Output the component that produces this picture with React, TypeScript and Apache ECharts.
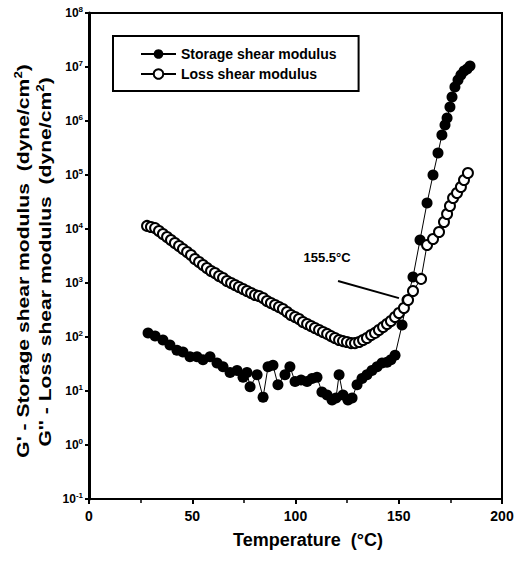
import React, { useEffect, useRef } from "react";
import * as echarts from "echarts";

const FONT = "'Liberation Sans', Arial, sans-serif";

// Storage shear modulus G' (dyne/cm^2) vs temperature (°C)
const storageTemp = [
  28.6, 32.0, 35.8, 39.2, 42.6, 45.5, 48.9, 52.3, 55.2, 58.6, 62.0, 64.9, 68.3, 71.7, 74.6, 76.5, 78.0,
  81.4, 84.3, 86.7, 89.1, 91.5, 94.9, 97.3, 99.8, 102.7, 105.6, 108.0, 110.4, 112.8, 115.3, 117.7, 119.6,
  121.1, 123.0, 125.4, 127.4, 129.8, 132.2, 134.6, 137.0, 139.5, 141.9, 144.3, 146.2, 148.2, 151.6, 154.0,
  156.9, 160.3, 163.7, 166.6, 169.0, 170.9, 172.4, 173.4, 174.8, 175.8, 177.2, 178.7, 180.1, 181.6, 183.1, 184.5,
];
const storageValue = [
  119, 104, 88, 71, 57, 53, 43, 43, 38, 43, 33, 28, 22, 24, 18, 22, 12,
  20, 7.7, 28, 30, 13, 20, 28, 15, 16, 15, 17, 18, 9.6, 8.4, 6.8, 7.4,
  20, 8.4, 6.8, 7.4, 13, 17, 20, 24, 28, 33, 34, 38, 46, 167, 484,
  1290, 6250, 30300, 100000, 255000, 551000, 843000, 1140000, 1820000, 2780000, 4260000, 5740000, 7110000, 8430000, 9180000, 10400000,
];

// Loss shear modulus G'' (dyne/cm^2) vs temperature (°C)
const lossTemp = [
  28.1, 30.0, 32.0, 33.9, 35.8, 37.8, 39.7, 41.6, 43.6, 45.5, 47.5, 49.4, 51.3, 53.3, 55.2, 57.1, 59.1,
  61.0, 63.0, 64.9, 66.8, 68.8, 70.7, 72.6, 74.6, 76.5, 78.5, 80.4, 82.3, 84.3, 86.2, 88.1, 90.1, 92.0,
  93.9, 95.9, 97.8, 99.8, 101.7, 103.6, 105.6, 107.5, 109.4, 111.4, 113.3, 115.3, 117.2, 119.1, 121.1,
  123.0, 124.9, 126.9, 128.8, 130.8, 132.7, 134.6, 136.6, 138.5, 140.4, 142.4, 144.3, 146.2, 148.2, 150.1,
  152.5, 154.5, 156.9, 160.8, 163.7, 166.6, 169.5, 171.9, 173.4, 174.8, 176.3, 178.2, 180.1, 181.6, 183.5,
];
const lossValue = [
  11400, 10900, 10400, 9180, 8080, 7110, 6250, 5510, 4840, 4260, 3750, 3300, 2780, 2450, 2150, 1900, 1670,
  1530, 1350, 1240, 1090, 1000, 918, 843, 774, 711, 653, 600, 575, 528, 464, 426, 391, 359,
  330, 290, 255, 235, 215, 190, 174, 160, 147, 135, 124, 114, 104, 96, 88,
  84, 81, 77, 77, 81, 88, 96, 109, 119, 135, 153, 174, 198, 235, 278,
  344, 484, 711, 1190, 5060, 6530, 8800, 13500, 19000, 26700, 37500, 46400, 60000, 80800, 109000,
];

const xTicks = [0, 50, 100, 150, 200];
const yDecades = [-1, 0, 1, 2, 3, 4, 5, 6, 7, 8];

// Annotation: crossover temperature
const crossLabel = "155.5°C";
const crossLabelAt = [115.3, 3020];
const arrowFrom = [120.6, 1090];
const arrowTo = [150.1, 525];

export default function App() {
  const ref = useRef<HTMLDivElement>(null);
  useEffect(() => {
    const chart = echarts.init(ref.current!, null, { renderer: "svg" });
    const pairs = (xs: number[], ys: number[]) => xs.map((x, i) => [x, ys[i]]);
    const titleRich = {
      a: { fontFamily: FONT, fontSize: 16, fontWeight: "bold", color: "#000", lineHeight: 20 },
      s: { fontFamily: FONT, fontSize: 10, fontWeight: "bold", color: "#000", lineHeight: 10, verticalAlign: "top" },
    };
    chart.setOption({
      animation: false,
      backgroundColor: "#fff",
      grid: {
        left: 89, right: 16, top: 13, bottom: 69,
        show: true, borderColor: "#000", borderWidth: 2, backgroundColor: "transparent",
      },
      xAxis: {
        type: "value",
        min: xTicks[0],
        max: xTicks[xTicks.length - 1],
        interval: 50,
        axisLine: { lineStyle: { color: "#000", width: 2 } },
        axisTick: { show: true, length: 5, lineStyle: { color: "#000", width: 2 } },
        minorTick: { show: true, splitNumber: 2, length: 4, lineStyle: { color: "#000", width: 1.5 } },
        splitLine: { show: false },
        axisLabel: { color: "#000", fontFamily: FONT, fontSize: 14, fontWeight: "bold", margin: 10 },
      },
      yAxis: {
        type: "log",
        logBase: 10,
        min: Math.pow(10, yDecades[0]),
        max: Math.pow(10, yDecades[yDecades.length - 1]),
        interval: 1,
        axisLine: { lineStyle: { color: "#000", width: 3 } },
        axisTick: { show: true, length: 4, lineStyle: { color: "#000", width: 2 } },
        splitLine: { show: false },
        axisLabel: {
          margin: 6,
          formatter: (v: number) => `{b|10}{s|${Math.round(Math.log10(v))}}`,
          rich: {
            b: { fontFamily: FONT, fontSize: 12, fontWeight: "bold", color: "#000", lineHeight: 16 },
            s: { fontFamily: FONT, fontSize: 8, fontWeight: "bold", color: "#000", lineHeight: 8, verticalAlign: "top" },
          },
        },
      },
      legend: {
        left: 113,
        top: 36,
        orient: "vertical",
        padding: [11, 22, 10, 27],
        itemWidth: 35,
        itemHeight: 12,
        itemGap: 6,
        borderColor: "#000",
        borderWidth: 2,
        textStyle: { color: "#000", fontFamily: FONT, fontSize: 14, fontWeight: "bold" },
        data: ["Storage shear modulus", "Loss shear modulus"],
      },
      graphic: [
        {
          type: "text", x: 23, y: 261, rotation: Math.PI / 2, scaleX: 1.32,
          style: {
            text: "{a|G' - Storage shear modulus  (dyne/cm}{s|2}{a|)}",
            rich: titleRich, align: "center", verticalAlign: "middle",
          },
        },
        {
          type: "text", x: 45, y: 262, rotation: Math.PI / 2, scaleX: 1.32,
          style: {
            text: "{a|G'' - Loss shear modulus  (dyne/cm}{s|2}{a|)}",
            rich: titleRich, align: "center", verticalAlign: "middle",
          },
        },
        {
          type: "text", x: 308, y: 540,
          style: {
            text: "Temperature  (°C)", fill: "#000", fontFamily: FONT, fontSize: 18,
            fontWeight: "bold", align: "center", verticalAlign: "middle",
          },
        },
      ],
      series: [
        {
          name: "Storage shear modulus",
          type: "line",
          data: pairs(storageTemp, storageValue),
          symbol: "circle",
          symbolSize: 11,
          showAllSymbol: true,
          itemStyle: { color: "#000" },
          lineStyle: { color: "#000", width: 1 },
          z: 2,
        },
        {
          name: "Loss shear modulus",
          type: "line",
          data: pairs(lossTemp, lossValue),
          symbol: "circle",
          symbolSize: 10,
          showAllSymbol: true,
          itemStyle: { color: "#fff", borderColor: "#000", borderWidth: 2 },
          lineStyle: { color: "#000", width: 1 },
          z: 3,
          markLine: {
            silent: true,
            symbol: ["none", "arrow"],
            symbolSize: [0, 9],
            lineStyle: { color: "#000", width: 2, type: "solid" },
            label: { show: false },
            data: [[{ coord: arrowFrom }, { coord: arrowTo }]],
          },
          markPoint: {
            silent: true,
            symbol: "circle",
            symbolSize: 1,
            itemStyle: { color: "rgba(0,0,0,0)" },
            label: {
              show: true, position: "inside", color: "#000", fontFamily: FONT,
              fontSize: 13, fontWeight: "bold", formatter: crossLabel,
            },
            data: [{ coord: crossLabelAt }],
          },
        },
      ],
    });
    return () => chart.dispose();
  }, []);
  return (
    <div
      ref={ref}
      style={{ position: "absolute", left: 0, top: 0, width: 518, height: 568, background: "#fff" }}
    />
  );
}
